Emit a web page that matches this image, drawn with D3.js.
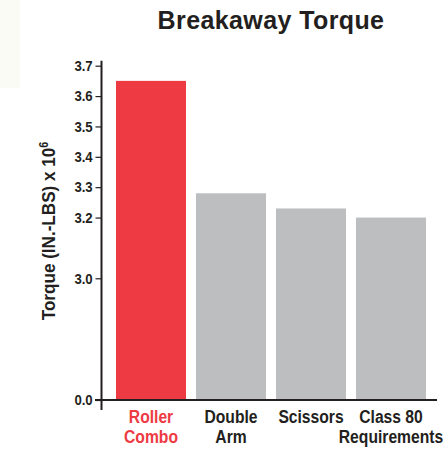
<!DOCTYPE html>
<html><head><meta charset="utf-8">
<script src="https://cdn.jsdelivr.net/npm/d3@7"></script>
<style>
html,body{margin:0;padding:0;background:#fff;}
svg{display:block;}
</style></head>
<body>
<script>
const categories = [["Roller","Combo"],["Double","Arm"],["Scissors"],["Class 80","Requirements"]];
const values = [3.65, 3.28, 3.23, 3.20];
const barColors = ["#ee3a43","#bcbec0","#bcbec0","#bcbec0"];
const labelColors = ["#ee3a43","#231f20","#231f20","#231f20"];
const yTicks = [0.0, 3.0, 3.2, 3.3, 3.4, 3.5, 3.6, 3.7];

const W = 445, H = 450;
const font = "'Liberation Sans',Arial,sans-serif";
const svg = d3.select("body").append("svg").attr("width", W).attr("height", H);

svg.append("rect").attr("x",0).attr("y",0).attr("width",20).attr("height",88).attr("fill","#fbfbf5");

const y = d3.scaleLinear().domain([0, 3.0, 3.7]).range([400, 278.3, 65.7]);
const x = d3.scaleBand().domain(d3.range(categories.length)).range([111, 431]).paddingInner(0.125).paddingOuter(0.0625);

svg.selectAll("rect.bar").data(values).join("rect").attr("class","bar")
  .attr("x",(d,i)=>x(i)).attr("width",x.bandwidth())
  .attr("y",d=>y(d)).attr("height",d=>y(0)-y(d))
  .attr("fill",(d,i)=>barColors[i]);

// y axis
const axisX = 101.5;
svg.append("line").attr("x1",axisX).attr("x2",axisX).attr("y1",y(3.7)-5).attr("y2",410)
  .attr("stroke","#231f20").attr("stroke-width",2);
const yAxis = d3.axisLeft(y).tickValues(yTicks).tickFormat(d3.format(".1f")).tickSize(6).tickPadding(4);
const gy = svg.append("g").attr("transform",`translate(${axisX},0)`).call(yAxis);
gy.select(".domain").remove();
gy.selectAll(".tick line").attr("stroke","#231f20").attr("stroke-width",1.2);
gy.selectAll(".tick text").attr("fill","#231f20").attr("transform","scale(0.88,1)")
  .style("font-family",font).style("font-weight","bold").style("font-size","15px");

// baseline
svg.append("line").attr("x1",95).attr("x2",437).attr("y1",y(0)).attr("y2",y(0))
  .attr("stroke","#231f20").attr("stroke-width",2);

// category labels (condensed)
categories.forEach((lines,i)=>{
  const cx = x(i)+x.bandwidth()/2;
  lines.forEach((s,j)=>{
    svg.append("text").attr("transform",`translate(${cx},${423+j*20}) scale(0.87,1)`)
      .attr("text-anchor","middle").attr("fill",labelColors[i])
      .style("font-family",font).style("font-weight","bold").style("font-size","18px").text(s);
  });
});

// title
svg.append("text").attr("x",271).attr("y",29).attr("text-anchor","middle")
  .attr("fill","#231f20").style("font-family",font)
  .style("font-weight","bold").style("font-size","25px").style("letter-spacing","0.4px").text("Breakaway Torque");

// y label
const yl = svg.append("text").attr("transform","translate(55,231) rotate(-90) scale(0.9,1)").attr("text-anchor","middle")
  .attr("fill","#231f20").style("font-family",font).style("font-weight","bold").style("font-size","19px");
yl.append("tspan").text("Torque (IN.-LBS) x 10");
yl.append("tspan").attr("dy",-7).style("font-size","12px").text("6");
</script>
</body></html>
